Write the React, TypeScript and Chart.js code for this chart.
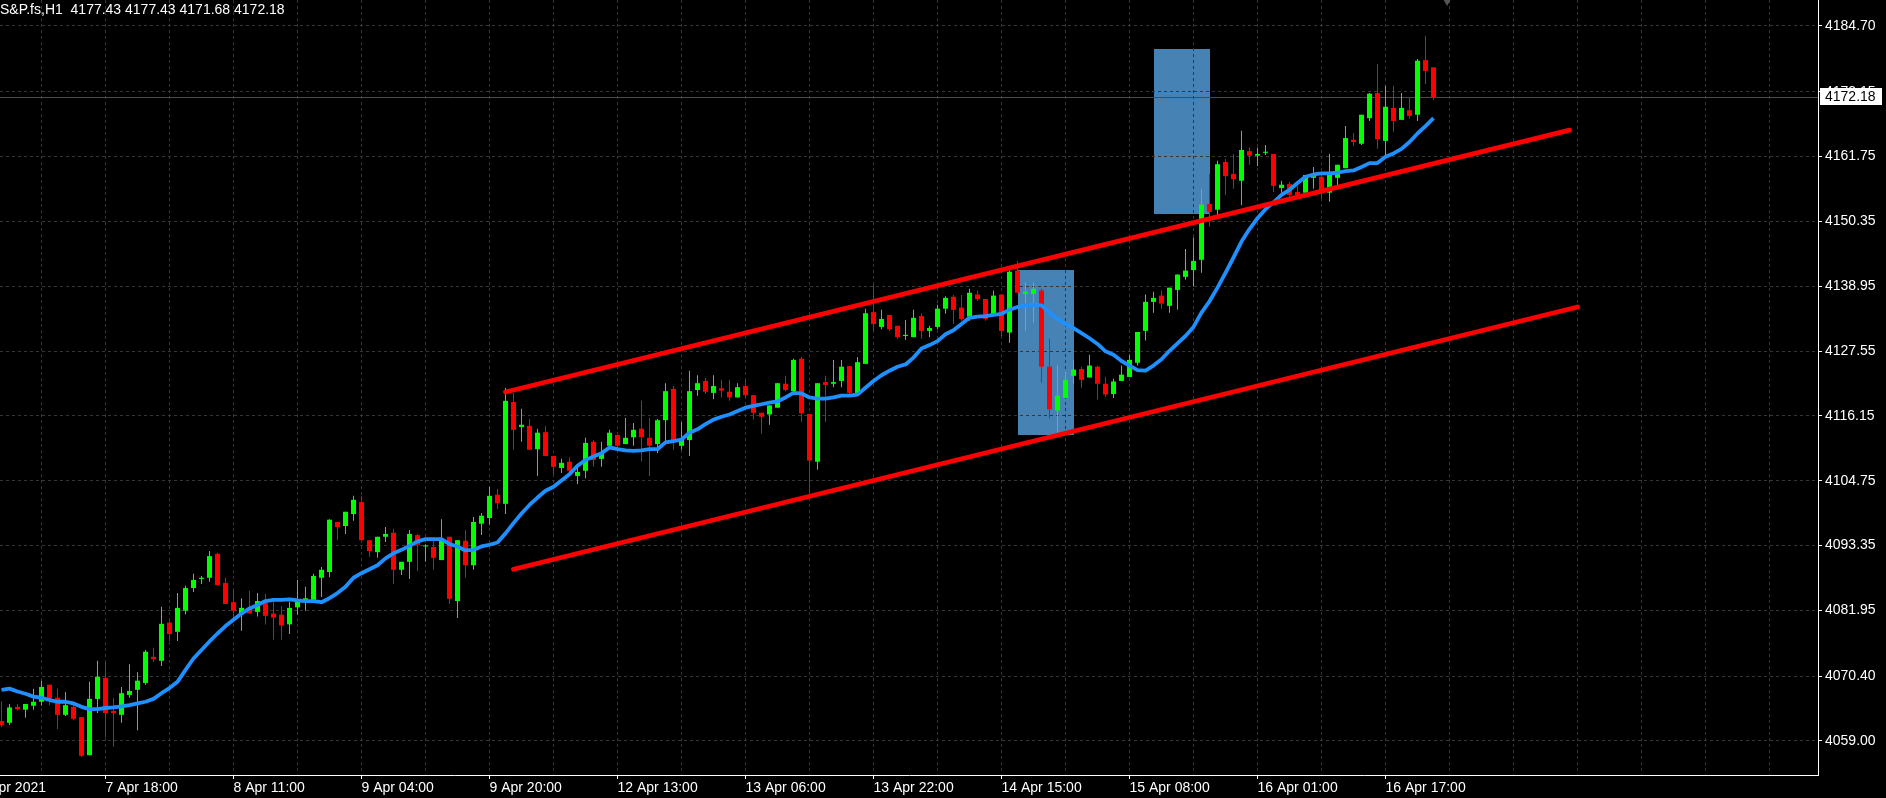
import React, { useEffect, useRef } from 'react';
import { Chart, registerables } from 'chart.js';

Chart.register(...registerables);

const symbol = 'S&P.fs';
const timeframe = 'H1';

const opens = [
  4062.5, 4062.2, 4065.0, 4064.5, 4065.2, 4065.9, 4068.9, 4066.6, 4063.6, 4065.0,
  4063.2, 4056.5, 4066.4, 4070.1, 4064.3, 4063.6, 4067.1, 4068.0, 4069.2, 4073.8,
  4073.1, 4079.8, 4078.2, 4081.9, 4085.9, 4087.5, 4087.7, 4091.9, 4086.8, 4083.4,
  4081.3, 4082.3, 4081.7, 4083.3, 4081.4, 4081.2, 4079.5, 4082.5, 4083.8, 4083.8,
  4087.7, 4088.7, 4097.5, 4096.8, 4098.9, 4101.0, 4094.3, 4092.2, 4094.9, 4095.6,
  4089.1, 4090.5, 4095.2, 4093.2, 4093.1, 4090.8, 4094.9, 4083.6, 4094.2, 4089.9,
  4097.2, 4098.2, 4102.3, 4100.7, 4118.6, 4114.2, 4114.4, 4110.3, 4113.3, 4109.1,
  4107.0, 4108.1, 4105.6, 4106.5, 4111.6, 4108.6, 4110.9, 4112.8, 4111.2, 4112.4,
  4113.9, 4112.3, 4111.2, 4115.4, 4120.9, 4110.9, 4111.9, 4120.7, 4122.3, 4120.2,
  4121.0, 4120.4, 4119.4, 4121.4, 4119.8, 4116.7, 4116.4, 4117.6, 4121.8, 4120.5,
  4126.2, 4116.5, 4108.1, 4122.1, 4121.8, 4122.3, 4124.9, 4120.2, 4125.3, 4134.4,
  4131.8, 4133.9, 4132.0, 4130.2, 4130.0, 4133.7, 4131.1, 4131.8, 4135.0, 4137.1,
  4135.2, 4133.6, 4137.5, 4136.7, 4133.9, 4137.5, 4130.8, 4141.7, 4137.6, 4137.6,
  4138.2, 4124.8, 4117.1, 4119.3, 4123.2, 4124.4, 4122.9, 4124.8, 4121.8, 4120.0,
  4122.3, 4123.0, 4125.5, 4131.1, 4136.2, 4137.3, 4135.5, 4138.3, 4140.6, 4141.8,
  4143.6, 4153.4, 4152.4, 4160.8, 4158.7, 4157.5, 4162.7, 4161.9, 4162.4, 4162.2,
  4156.2, 4156.9, 4155.5, 4155.4, 4158.0, 4158.2, 4155.4, 4158.0, 4159.7, 4164.7,
  4164.0, 4168.5, 4172.9, 4164.5, 4170.3, 4168.2, 4169.9, 4169.1, 4178.7, 4177.43,
];

const highs = [
  4066.0, 4065.5, 4065.5, 4065.5, 4068.2, 4069.6, 4068.9, 4068.2, 4067.6, 4065.3,
  4063.2, 4069.4, 4073.1, 4072.9, 4066.6, 4068.5, 4072.5, 4071.1, 4075.0, 4075.4,
  4082.6, 4080.1, 4085.0, 4086.3, 4088.4, 4088.0, 4092.4, 4092.1, 4087.7, 4085.6,
  4084.1, 4085.4, 4085.0, 4084.9, 4083.5, 4082.7, 4083.5, 4087.3, 4086.1, 4088.4,
  4089.6, 4098.0, 4097.5, 4099.3, 4102.1, 4102.1, 4094.3, 4094.9, 4096.6, 4096.3,
  4090.5, 4096.1, 4095.4, 4093.6, 4094.2, 4098.0, 4094.9, 4094.3, 4096.1, 4098.4,
  4099.1, 4103.7, 4103.3, 4121.1, 4120.2, 4117.4, 4115.6, 4113.9, 4114.4, 4109.1,
  4108.6, 4108.9, 4107.2, 4112.3, 4111.9, 4111.6, 4113.7, 4112.8, 4115.8, 4114.9,
  4118.8, 4115.8, 4115.6, 4121.9, 4121.4, 4115.1, 4124.1, 4123.3, 4122.8, 4123.3,
  4122.5, 4122.5, 4121.9, 4122.5, 4119.8, 4116.7, 4118.0, 4121.9, 4123.2, 4126.2,
  4126.5, 4116.5, 4121.9, 4123.2, 4126.0, 4126.0, 4124.9, 4126.5, 4135.0, 4139.2,
  4134.8, 4133.9, 4132.0, 4133.0, 4134.8, 4134.2, 4132.0, 4135.7, 4137.2, 4137.4,
  4137.4, 4138.5, 4138.2, 4136.7, 4138.2, 4137.5, 4141.7, 4143.4, 4139.7, 4139.6,
  4138.5, 4129.7, 4125.1, 4123.9, 4126.0, 4124.8, 4126.9, 4125.0, 4123.0, 4122.7,
  4125.0, 4126.9, 4130.9, 4137.5, 4138.0, 4138.2, 4138.7, 4141.0, 4145.5, 4147.5,
  4156.1, 4158.7, 4161.0, 4161.3, 4162.2, 4166.3, 4163.4, 4163.3, 4163.8, 4162.2,
  4157.5, 4157.3, 4156.6, 4158.5, 4159.9, 4158.9, 4162.2, 4160.3, 4167.1, 4165.9,
  4169.1, 4172.9, 4178.0, 4174.2, 4174.2, 4172.9, 4172.1, 4178.9, 4183.0, 4177.43,
];

const lows = [
  4061.4, 4061.8, 4064.4, 4063.1, 4064.5, 4065.2, 4065.3, 4061.1, 4063.4, 4062.7,
  4056.2, 4056.5, 4063.9, 4059.7, 4058.0, 4062.2, 4066.6, 4060.9, 4068.9, 4072.9,
  4072.2, 4076.6, 4076.6, 4081.3, 4085.2, 4086.6, 4087.0, 4086.4, 4083.1, 4080.6,
  4078.4, 4081.4, 4080.9, 4079.5, 4076.8, 4076.8, 4077.8, 4081.2, 4081.9, 4083.4,
  4084.3, 4087.8, 4094.3, 4095.4, 4097.7, 4094.3, 4091.4, 4091.2, 4094.0, 4086.6,
  4088.2, 4087.5, 4088.9, 4090.5, 4089.1, 4090.8, 4083.1, 4080.6, 4087.7, 4089.1,
  4095.2, 4097.0, 4099.8, 4098.9, 4110.2, 4111.6, 4110.2, 4105.6, 4109.1, 4105.9,
  4106.1, 4105.6, 4104.2, 4105.2, 4107.2, 4107.2, 4110.2, 4110.2, 4111.2, 4110.9,
  4108.2, 4105.6, 4109.6, 4111.6, 4110.2, 4110.2, 4109.1, 4119.7, 4120.0, 4119.1,
  4119.4, 4118.8, 4119.4, 4119.4, 4115.5, 4113.0, 4114.6, 4117.6, 4120.5, 4120.5,
  4115.1, 4102.6, 4106.7, 4115.1, 4121.2, 4121.2, 4119.8, 4120.2, 4125.3, 4131.1,
  4131.4, 4131.1, 4129.7, 4129.5, 4130.0, 4129.7, 4130.0, 4131.4, 4134.1, 4132.3,
  4132.9, 4132.9, 4136.4, 4132.9, 4133.9, 4130.2, 4129.0, 4137.8, 4131.1, 4132.5,
  4122.0, 4115.7, 4113.2, 4119.3, 4121.8, 4121.1, 4122.9, 4119.0, 4119.5, 4119.3,
  4122.3, 4123.0, 4125.0, 4129.4, 4134.3, 4135.0, 4134.3, 4134.8, 4140.1, 4138.9,
  4141.3, 4149.4, 4151.3, 4155.0, 4156.1, 4153.2, 4160.3, 4160.1, 4162.0, 4155.5,
  4155.4, 4154.5, 4154.5, 4155.0, 4156.1, 4154.3, 4153.8, 4156.6, 4159.7, 4163.6,
  4163.8, 4168.0, 4163.1, 4162.0, 4166.1, 4168.2, 4168.4, 4168.0, 4174.5, 4171.68,
];

const closes = [
  4061.8, 4064.9, 4064.6, 4065.5, 4065.9, 4068.5, 4066.4, 4063.6, 4065.3, 4062.9,
  4056.4, 4066.4, 4070.3, 4063.9, 4063.9, 4067.4, 4067.8, 4069.6, 4074.7, 4073.4,
  4079.6, 4077.8, 4082.4, 4085.9, 4087.3, 4087.7, 4091.5, 4086.4, 4083.1, 4081.9,
  4082.4, 4081.4, 4083.6, 4081.0, 4080.7, 4079.3, 4082.4, 4083.6, 4084.1, 4088.0,
  4089.1, 4097.9, 4096.6, 4099.3, 4101.4, 4094.3, 4092.4, 4094.9, 4095.4, 4089.1,
  4090.5, 4095.4, 4093.5, 4093.3, 4091.2, 4094.3, 4084.0, 4094.3, 4089.9, 4097.5,
  4098.6, 4102.1, 4100.8, 4118.8, 4113.7, 4114.6, 4110.2, 4113.2, 4109.1, 4107.2,
  4107.9, 4106.5, 4106.3, 4111.4, 4108.4, 4109.6, 4113.2, 4110.9, 4112.3, 4113.7,
  4112.4, 4110.9, 4115.4, 4120.5, 4111.9, 4111.9, 4120.5, 4121.9, 4120.4, 4121.4,
  4120.6, 4119.4, 4121.2, 4119.8, 4116.7, 4116.0, 4118.0, 4121.9, 4120.7, 4126.0,
  4116.6, 4108.3, 4121.9, 4121.6, 4122.1, 4124.8, 4120.2, 4125.6, 4134.2, 4132.3,
  4133.2, 4131.4, 4130.0, 4130.4, 4133.4, 4131.1, 4131.6, 4135.0, 4136.9, 4134.8,
  4133.2, 4137.8, 4136.7, 4133.2, 4137.3, 4131.1, 4141.5, 4137.8, 4138.0, 4138.5,
  4124.8, 4117.3, 4119.7, 4122.5, 4124.3, 4122.5, 4125.0, 4121.8, 4119.9, 4122.2,
  4123.4, 4126.0, 4130.9, 4136.2, 4136.9, 4135.9, 4138.7, 4141.0, 4141.7, 4143.4,
  4153.3, 4152.0, 4160.4, 4158.3, 4157.8, 4162.9, 4161.9, 4162.2, 4162.6, 4156.6,
  4156.8, 4155.0, 4155.0, 4158.5, 4158.3, 4155.4, 4158.9, 4160.3, 4165.0, 4164.3,
  4169.1, 4172.8, 4164.8, 4170.5, 4168.0, 4170.3, 4168.9, 4178.6, 4176.8, 4172.18,
];

const maValues = [
  4068.0, 4068.2, 4067.7, 4067.3, 4066.8, 4066.6, 4066.2, 4065.9, 4065.9, 4065.6,
  4065.0, 4064.6, 4064.6, 4064.8, 4064.9, 4065.1, 4065.3, 4065.6, 4065.9, 4066.4,
  4067.4, 4068.3, 4069.4, 4071.5, 4073.5, 4075.0, 4076.5, 4077.9, 4079.2, 4080.3,
  4081.4, 4082.3, 4082.9, 4083.6, 4083.8, 4083.8, 4083.9, 4083.7, 4083.6, 4083.6,
  4083.4, 4084.1, 4085.0, 4086.1, 4087.7, 4088.5, 4089.2, 4089.9, 4091.1, 4092.0,
  4092.6, 4093.3, 4094.1, 4094.5, 4094.5, 4094.5, 4093.6, 4093.2, 4092.5, 4092.6,
  4093.2, 4093.5, 4093.9, 4095.5, 4097.3, 4099.0, 4100.5, 4101.8, 4103.0, 4103.7,
  4104.8, 4105.9, 4107.4, 4108.4, 4109.0, 4109.6, 4110.6, 4110.3, 4110.1, 4110.0,
  4110.1, 4110.3, 4110.3, 4111.5, 4111.7, 4112.0, 4113.2, 4113.8, 4114.7, 4115.5,
  4116.0, 4116.4, 4117.0, 4117.6, 4117.9, 4118.2, 4118.5, 4118.7, 4119.4, 4120.2,
  4120.1, 4119.4, 4119.2, 4119.2, 4119.4, 4119.7, 4119.7, 4119.9, 4121.1, 4122.3,
  4123.3, 4124.1, 4124.8, 4125.2, 4126.4, 4128.0, 4128.6, 4129.3, 4130.5, 4131.2,
  4132.3, 4133.4, 4133.6, 4133.7, 4133.9, 4134.1, 4134.8, 4135.3, 4135.6, 4135.7,
  4135.6, 4134.3, 4133.2, 4132.3, 4131.6, 4130.7, 4129.8, 4128.8, 4127.5, 4126.9,
  4125.8, 4125.0, 4124.2, 4124.1, 4125.0, 4126.1, 4127.6, 4128.9, 4130.2, 4131.8,
  4134.3, 4136.3, 4138.7, 4141.3, 4144.0, 4146.8, 4149.0, 4150.9, 4152.5, 4153.7,
  4155.0, 4155.9, 4157.1, 4158.2, 4158.6, 4158.8, 4158.8, 4158.9, 4159.2, 4159.3,
  4159.9, 4160.6, 4160.6, 4161.7, 4162.3, 4163.1, 4164.3, 4165.8, 4167.1, 4168.5,
];

const yTickValues = [
  4059.0, 4070.4, 4081.95, 4093.35, 4104.75, 4116.15, 4127.55, 4138.95, 4150.35, 4161.75, 4173.15, 4184.7,
];

const xTickIndex = [-3, 13, 29, 45, 61, 77, 93, 109, 125, 141, 157, 173];
const xTickLabels = [
  '7 Apr 2021', '7 Apr 18:00', '8 Apr 11:00', '9 Apr 04:00', '9 Apr 20:00', '12 Apr 13:00',
  '13 Apr 06:00', '13 Apr 22:00', '14 Apr 15:00', '15 Apr 08:00', '16 Apr 01:00', '16 Apr 17:00',
];

const trendStartIndex = [63, 64];
const trendStartPrice = [4120.35, 4089.2];
const trendEndIndex = [196, 197];
const trendEndPrice = [4166.4, 4135.3];

const zoneStartIndex = [127, 144];
const zoneEndIndex = [134, 151];
const zoneTop = [4141.8, 4180.65];
const zoneBottom = [4112.8, 4151.65];

const shiftMarkerIndex = [180.7];

// visible window
const X_MIN = -0.1875;
const X_MAX = 227.0625;
const Y_MIN = 4053.02;
const Y_MAX = 4189.27;
const GRID_FIRST = -3;
const GRID_STEP = 8;

const FONT = 'Liberation Sans';
const BULL = '#00FF00';
const BEAR = '#FF0000';
const GRID_COLOR = '#363636';

export default function App() {
  const canvasRef = useRef<HTMLCanvasElement | null>(null);

  useEffect(() => {
    const canvas = canvasRef.current;
    if (!canvas) return;

    const idx = opens.map((_, i) => i);
    const candleColors = idx.map((i) => (closes[i] >= opens[i] ? BULL : BEAR));
    const bodyData = idx.map((i) => ({ x: i, y: [opens[i], closes[i]] }));
    const wickData = idx.map((i) => ({ x: i, y: [lows[i], highs[i]] }));
    const maData = maValues.map((v, i) => ({ x: i, y: v }));
    const lastIdx = closes.length - 1;

    const gridTicks: number[] = [];
    for (let v = GRID_FIRST; v <= X_MAX; v += GRID_STEP) gridTicks.push(v);

    const trendSets = trendStartIndex.map((s, i) => ({
      type: 'line' as const,
      data: [
        { x: s, y: trendStartPrice[i] },
        { x: trendEndIndex[i], y: trendEndPrice[i] },
      ],
      borderColor: '#FF0000',
      borderWidth: 4.8,
      borderCapStyle: 'round' as const,
      pointRadius: 0,
      order: 0,
    }));

    const overlayPlugin = {
      id: 'mtOverlay',
      beforeDraw(chart: any) {
        const { ctx, width, height } = chart;
        const x = chart.scales.x;
        const y = chart.scales.y;
        ctx.save();
        ctx.fillStyle = '#000';
        ctx.fillRect(0, 0, width, height);
        ctx.fillStyle = '#4682B4';
        zoneStartIndex.forEach((s, i) => {
          const x0 = Math.round(x.getPixelForValue(s));
          const x1 = Math.round(x.getPixelForValue(zoneEndIndex[i]));
          const y0 = Math.round(y.getPixelForValue(zoneTop[i]));
          const y1 = Math.round(y.getPixelForValue(zoneBottom[i]));
          ctx.fillRect(x0, y0, x1 - x0, y1 - y0);
        });
        ctx.restore();
      },
      beforeDatasetsDraw(chart: any) {
        const { ctx, chartArea } = chart;
        const y = chart.scales.y;
        const yp = Math.round(y.getPixelForValue(closes[lastIdx])) + 0.5;
        ctx.save();
        ctx.strokeStyle = '#4a4a4a';
        ctx.lineWidth = 1;
        ctx.beginPath();
        ctx.moveTo(chartArea.left, yp);
        ctx.lineTo(chartArea.right, yp);
        ctx.stroke();
        ctx.restore();
      },
      afterDraw(chart: any) {
        const { ctx, chartArea } = chart;
        const y = chart.scales.y;
        const yv = y.getPixelForValue(closes[lastIdx]);
        const yr = Math.round(yv);
        ctx.save();
        ctx.fillStyle = '#fff';
        ctx.fillRect(chartArea.right + 2, yr - 9, 62, 17);
        ctx.fillStyle = '#000';
        ctx.font = `14px "${FONT}"`;
        ctx.textBaseline = 'middle';
        ctx.textAlign = 'left';
        ctx.fillText(closes[lastIdx].toFixed(2), chartArea.right + 7, yr);
        ctx.restore();
      },
    };

    const chart = new Chart(canvas, {
      type: 'bar',
      data: {
        datasets: [
          ...trendSets,
          {
            type: 'line' as const,
            data: shiftMarkerIndex.map((v) => ({ x: v, y: Y_MAX })),
            showLine: false,
            pointStyle: 'triangle',
            rotation: 180,
            pointRadius: 6,
            pointBackgroundColor: '#555555',
            pointBorderWidth: 0,
            order: 0,
          } as any,
          {
            type: 'line' as const,
            data: maData,
            borderColor: '#1E90FF',
            borderWidth: 3.8,
            borderJoinStyle: 'round' as const,
            pointRadius: 0,
            tension: 0,
            order: 1,
          },
          {
            type: 'bar' as const,
            data: bodyData as any,
            backgroundColor: candleColors,
            borderWidth: 0,
            barThickness: 5,
            minBarLength: 1,
            grouped: false,
            inflateAmount: 0,
            order: 2,
          } as any,
          {
            type: 'bar' as const,
            data: wickData as any,
            backgroundColor: candleColors,
            borderWidth: 0,
            barThickness: 1,
            minBarLength: 1,
            grouped: false,
            inflateAmount: 0,
            order: 3,
          } as any,
        ],
      },
      options: {
        animation: false,
        responsive: false,
        events: [],
        layout: { padding: 0, autoPadding: false },
        plugins: {
          legend: { display: false },
          tooltip: { enabled: false },
          title: { display: false },
        },
        scales: {
          x: {
            type: 'linear',
            min: X_MIN,
            max: X_MAX,
            bounds: 'data',
            offset: false,
            afterBuildTicks: (s: any) => {
              s.ticks = gridTicks.map((v) => ({ value: v }));
            },
            afterFit: (s: any) => {
              s.height = 23;
              s.paddingLeft = 0;
              s.paddingRight = 0;
            },
            grid: {
              offset: false,
              color: GRID_COLOR,
              lineWidth: 1,
              drawTicks: true,
              tickLength: 4,
              tickWidth: 1,
              tickBorderDash: [],
              tickColor: (ctx: any) =>
                ctx.tick && xTickIndex.includes(ctx.tick.value) ? '#ffffff' : 'rgba(0,0,0,0)',
            },
            border: { display: true, color: '#ffffff', width: 1, dash: [3, 3] },
            ticks: {
              autoSkip: false,
              maxRotation: 0,
              minRotation: 0,
              align: 'start',
              padding: 1,
              color: '#ffffff',
              font: { family: FONT, size: 14 },
              callback: (v: any) => {
                const i = xTickIndex.indexOf(Number(v));
                return i >= 0 ? xTickLabels[i] : '';
              },
            },
          } as any,
          y: {
            type: 'linear',
            position: 'right',
            min: Y_MIN,
            max: Y_MAX,
            bounds: 'data',
            beginAtZero: false,
            afterBuildTicks: (s: any) => {
              s.ticks = yTickValues.map((v) => ({ value: v }));
            },
            afterFit: (s: any) => {
              s.width = 68;
              s.paddingTop = 0;
              s.paddingBottom = 0;
            },
            grid: {
              color: GRID_COLOR,
              lineWidth: 1,
              drawTicks: true,
              tickLength: 4,
              tickWidth: 1,
              tickColor: '#ffffff',
              tickBorderDash: [],
            },
            border: { display: true, color: '#ffffff', width: 1, dash: [3, 3] },
            ticks: {
              autoSkip: false,
              padding: 3,
              color: '#ffffff',
              font: { family: FONT, size: 14 },
              callback: (v: any) => Number(v).toFixed(2),
            },
          } as any,
        },
      },
      plugins: [overlayPlugin],
    } as any);

    return () => {
      chart.destroy();
    };
  }, []);

  const last = closes.length - 1;
  const title = `${symbol},${timeframe}  ${opens[last].toFixed(2)} ${highs[last].toFixed(2)} ${lows[last].toFixed(2)} ${closes[last].toFixed(2)}`;

  return (
    <div
      style={{
        position: 'fixed',
        left: 0,
        top: 0,
        width: 1886,
        height: 798,
        background: '#000',
        overflow: 'hidden',
      }}
    >
      <canvas ref={canvasRef} width={1886} height={798} style={{ display: 'block', width: 1886, height: 798 }} />
      <div
        style={{
          position: 'absolute',
          left: 0,
          top: 0,
          color: '#ffffff',
          fontFamily: `"${FONT}", sans-serif`,
          fontSize: 14,
          lineHeight: '18px',
          whiteSpace: 'pre',
        }}
      >
        {title}
      </div>
    </div>
  );
}
